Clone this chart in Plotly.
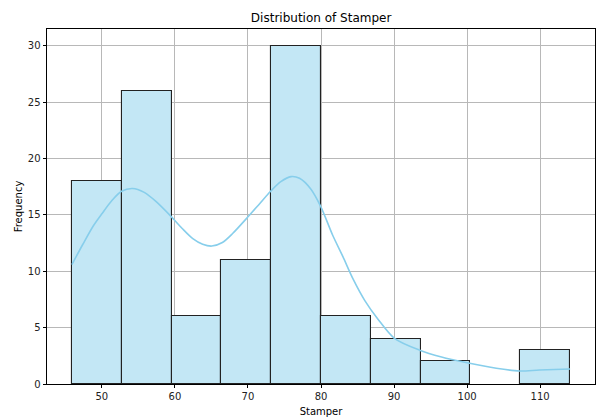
import plotly.graph_objects as go

# Histogram of Stamper values (10 equal-width bins) with a smoothed density overlay
bin_edges = [45.9, 52.72, 59.54, 66.36, 73.18, 80.0, 86.82, 93.64, 100.46, 107.28, 114.1]
counts = [18, 26, 6, 11, 30, 6, 4, 2, 0, 3]

# Kernel density estimate, scaled to counts
kde_x = [45.9, 47.4, 48.8, 50.0, 51.4, 52.7, 54.2, 55.8, 57.4, 59.5, 61.0, 62.45, 63.8, 65.05,
         66.5, 67.9, 70.1, 71.6, 73.1, 74.5, 75.9, 77.06, 78.6, 80.0, 81.6, 83.0, 84.4, 86.0,
         87.8, 90.05, 93.5, 96.5, 100.0, 104.0, 107.2, 109.9, 114.1]
kde_y = [10.6, 12.4, 14.0, 15.1, 16.3, 17.1, 17.35, 17.0, 16.2, 14.85, 13.8, 12.9, 12.4, 12.24,
         12.55, 13.35, 14.9, 16.0, 17.1, 17.95, 18.4, 18.25, 17.3, 15.7, 13.2, 11.3, 9.3, 7.4,
         5.75, 4.05, 3.0, 2.4, 1.89, 1.4, 1.15, 1.24, 1.33]

x_ticks = [50, 60, 70, 80, 90, 100, 110]
y_ticks = [0, 5, 10, 15, 20, 25, 30]

centers = [(a + b) / 2 for a, b in zip(bin_edges[:-1], bin_edges[1:])]
widths = [b - a for a, b in zip(bin_edges[:-1], bin_edges[1:])]
edge_widths = [1.1 if c > 0 else 0 for c in counts]

span = bin_edges[-1] - bin_edges[0]
x_range = [bin_edges[0] - 0.05 * span, bin_edges[-1] + 0.05 * span]
y_range = [0, max(counts) * 1.05]

fig = go.Figure()
fig.add_trace(go.Bar(
    x=centers, y=counts, width=widths,
    marker=dict(color="#C3E7F5", line=dict(color="#222222", width=edge_widths)),
    hoverinfo="x+y", showlegend=False,
))
fig.add_trace(go.Scatter(
    x=kde_x, y=kde_y, mode="lines",
    line=dict(color="#87CEEB", width=1.6, shape="spline", smoothing=0.8),
    showlegend=False,
))

axis_common = dict(
    showgrid=True, gridcolor="#b8b8b8", gridwidth=0.8,
    showline=True, linecolor="#000000", linewidth=0.9, mirror=True,
    ticks="outside", ticklen=3.5, tickwidth=0.8, tickcolor="#000000",
    zeroline=False, layer="above traces",
    tickfont=dict(family="DejaVu Sans", size=10, color="#222222"),
)

fig.update_layout(
    width=598, height=419,
    margin=dict(l=47, r=3, t=29, b=35),
    paper_bgcolor="white", plot_bgcolor="white",
    font=dict(family="DejaVu Sans", color="#222222"),
    bargap=0,
    title=dict(text="Distribution of Stamper", x=0.537, xanchor="center", y=0.957, yanchor="middle",
               font=dict(family="DejaVu Sans", size=12, color="#000000")),
    xaxis=dict(range=x_range, tickvals=x_ticks, title=dict(text="Stamper", standoff=6,
               font=dict(family="DejaVu Sans", size=10, color="#000000")), **axis_common),
    yaxis=dict(range=y_range, tickvals=y_ticks, title=dict(text="Frequency", standoff=3,
               font=dict(family="DejaVu Sans", size=10, color="#000000")), **axis_common),
)

fig.write_html("out.html")
